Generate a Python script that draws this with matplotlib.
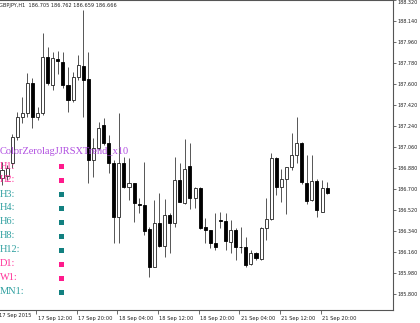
import matplotlib
matplotlib.use("Agg")
import matplotlib.pyplot as plt
from matplotlib.patches import Rectangle
from matplotlib.transforms import ScaledTranslation
import numpy as np

# GBPJPY H1 bars, 17 Sep 2015 05:00 .. 21 Sep 2015 21:00
opens = [186.794, 186.812, 186.923, 187.146, 187.317, 187.351, 187.609, 187.317, 187.351, 187.831,
         187.591, 187.814, 187.789, 187.591, 187.463, 187.660, 187.754, 187.643, 186.949, 187.051,
         187.249, 187.094, 186.923, 186.460, 186.923, 186.717, 186.751, 186.571, 186.563, 186.357,
         186.031, 186.409, 186.212, 186.477, 186.409, 186.777, 186.580, 186.897, 186.623, 186.709,
         186.374, 186.349, 186.237, 186.434, 186.426, 186.246, 186.349, 186.203, 186.203, 186.057,
         186.152, 186.100, 186.366, 186.443, 186.966, 186.717, 186.786, 186.889, 186.991, 187.094,
         186.751, 186.606, 186.769, 186.503, 186.705]
highs = [186.931, 186.906, 187.171, 187.360, 187.489, 187.694, 187.651, 187.403, 188.037, 187.917,
         187.874, 187.883, 187.874, 187.746, 187.703, 187.849, 188.234, 187.874, 187.137, 187.274,
         187.309, 187.163, 186.949, 187.351, 186.974, 186.966, 186.751, 186.623, 186.931, 186.374,
         186.606, 186.666, 186.614, 186.494, 186.974, 186.923, 187.129, 187.094, 186.717, 186.717,
         186.452, 186.349, 186.494, 186.503, 186.494, 186.434, 186.366, 186.374, 186.289, 186.177,
         186.160, 186.374, 186.623, 187.009, 186.974, 186.871, 186.889, 187.180, 187.317, 187.103,
         186.991, 186.991, 186.786, 186.777, 186.762]
lows = [186.734, 186.777, 186.880, 187.120, 187.266, 187.317, 187.223, 187.291, 187.334, 187.591,
        187.549, 187.686, 187.566, 187.360, 187.446, 187.634, 187.317, 186.751, 186.803, 187.034,
        187.077, 186.837, 186.237, 186.237, 186.709, 186.606, 186.417, 186.494, 186.306, 185.946,
        186.031, 186.203, 186.117, 186.152, 186.374, 186.589, 186.571, 186.529, 186.537, 186.357,
        186.237, 186.194, 186.177, 186.366, 186.177, 186.152, 186.092, 186.152, 186.031, 186.049,
        186.092, 186.092, 186.263, 186.434, 186.649, 186.589, 186.486, 186.863, 186.923, 186.743,
        186.571, 186.597, 186.460, 186.503, 186.659]
closes = [186.863, 186.880, 187.146, 187.317, 187.351, 187.609, 187.317, 187.351, 187.831, 187.609,
          187.823, 187.797, 187.591, 187.463, 187.660, 187.763, 187.634, 186.949, 187.051, 187.223,
          187.094, 186.923, 186.460, 186.923, 186.717, 186.751, 186.580, 186.563, 186.340, 186.031,
          186.409, 186.212, 186.477, 186.409, 186.777, 186.589, 186.871, 186.623, 186.709, 186.366,
          186.349, 186.237, 186.203, 186.430, 186.254, 186.349, 186.203, 186.199, 186.049, 186.152,
          186.109, 186.366, 186.443, 186.966, 186.717, 186.786, 186.889, 186.991, 187.094, 186.760,
          186.597, 186.769, 186.520, 186.709, 186.666]

time_ticks = [7, 15, 23, 31, 39, 47, 55, 63]
time_labels = ["17 Sep 12:00", "17 Sep 20:00", "18 Sep 04:00", "18 Sep 12:00",
               "18 Sep 20:00", "21 Sep 04:00", "21 Sep 12:00", "21 Sep 20:00"]
price_ticks = [185.80, 185.98, 186.16, 186.34, 186.52, 186.70, 186.88, 187.06,
               187.24, 187.42, 187.60, 187.78, 187.96, 188.14, 188.32]

tf_labels = ["H1:", "H2:", "H3:", "H4:", "H6:", "H8:", "H12:", "D1:", "W1:", "MN1:"]
tf_state = ["dn", "dn", "up", "up", "up", "up", "up", "dn", "dn", "up"]

W, H = 420, 323
fig = plt.figure(figsize=(W / 100, H / 100), dpi=100)
ax = fig.add_axes([0, 13 / H, 393 / W, 310 / H])

o = np.array(opens); c = np.array(closes)
x = np.arange(len(o))
bull = c >= o
ax.vlines(x, lows, highs, color="#3a3a3a", lw=0.6, zorder=1)
bottom = np.minimum(o, c)
height = np.maximum(np.abs(c - o), 0.002)
ax.bar(x[bull], height[bull], bottom=bottom[bull], width=0.6,
       facecolor="white", edgecolor="#222222", lw=0.6, zorder=2)
ax.bar(x[~bull], height[~bull], bottom=bottom[~bull], width=0.6,
       facecolor="black", edgecolor="black", lw=0.6, zorder=2)

ax.set_xlim(-0.39, 76.97)
ax.set_ylim(185.663, 188.32)

ax.spines["left"].set_visible(False)
for s in ["top", "right", "bottom"]:
    ax.spines[s].set_color("#555555")
    ax.spines[s].set_linewidth(0.8)

ax.yaxis.tick_right()
ax.set_yticks(price_ticks)
ax.set_yticklabels([f"{v:.3f}" for v in price_ticks])
ax.tick_params(axis="y", length=2, width=0.6, color="#555555", pad=1,
               labelsize=3.5, labelcolor="#222222")
# top label would be cut by the figure edge, hang it below the tick
ax.get_yticklabels()[-1].set_va("top")

ax.set_xticks([t - 0.3 for t in time_ticks])
ax.set_xticklabels(time_labels)
ax.tick_params(axis="x", length=3, width=0.6, color="#555555", pad=1.5,
               labelsize=3.7, labelcolor="#222222")
off = ScaledTranslation(1.5 / 100, 0, fig.dpi_scale_trans)
for lab in ax.get_xticklabels():
    lab.set_ha("left")
    lab.set_transform(lab.get_transform() + off)

def fx(px):
    return px / W

def fy(py):
    return 1 - py / H

fig.text(fx(-1), fy(316), "17 Sep 2015", fontsize=3.7, color="#222222", ha="left", va="center")
fig.text(fx(-1), fy(6), "GBPJPY,H1  186.705 186.762 186.659 186.666", fontsize=3.6,
         color="#222222", ha="left", va="center")

serif = ["Liberation Serif", "DejaVu Serif"]
fig.text(fx(0), fy(152), "ColorZerolagJJRSXTrend_x10", fontsize=7.5, family=serif,
         color="#b04fe0", ha="left", va="center")
text_col = {"dn": "#ff3399", "up": "#30a0a0"}
box_col = {"dn": "#ff1a8c", "up": "#128080"}
for k, (lab, st) in enumerate(zip(tf_labels, tf_state)):
    yy = 166 + 14 * k
    fig.text(fx(0), fy(yy), lab, fontsize=7.5, family=serif, color=text_col[st],
             ha="left", va="center")
    fig.add_artist(Rectangle((fx(59), fy(yy + 2.5)), 5 / W, 5 / H,
                             transform=fig.transFigure, color=box_col[st], lw=0))

fig.savefig("out.png", dpi=100)
